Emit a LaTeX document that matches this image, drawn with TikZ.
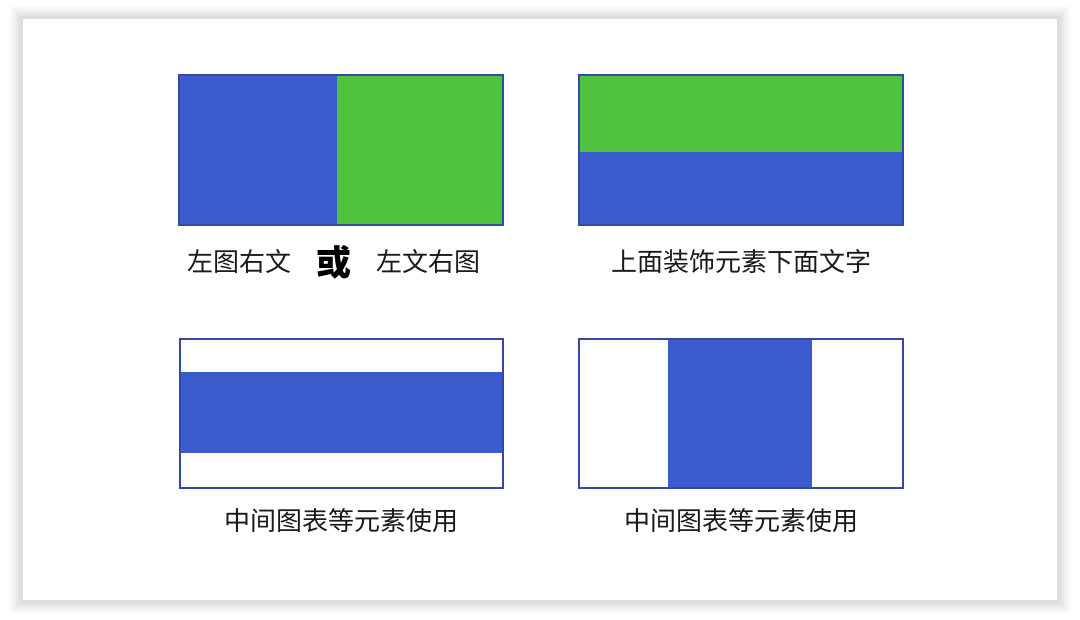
\documentclass[tikz,border=0pt]{standalone}
\usepackage{fontspec}
\newfontfamily\cjk{Noto Sans CJK SC}
\usetikzlibrary{positioning}

\definecolor{slideblue}{RGB}{60,91,204}
\definecolor{slidegreen}{RGB}{80,194,62}
\definecolor{edgeblue}{RGB}{52,72,165}
\definecolor{captiongray}{RGB}{26,26,26}

\tikzset{
    panel/.style={draw=edgeblue, line width=0.6pt, minimum width=162pt, minimum height=75pt, inner sep=0pt},
    caption/.style={font=\cjk\fontsize{13}{16}\selectfont, text=captiongray, inner sep=0pt},
    orword/.style={font=\cjk\bfseries\fontsize{17.5}{20}\selectfont, text=black, inner sep=0pt},
}

\begin{document}
\begin{tikzpicture}[x=0.5pt, y=-0.5pt]
    % canvas and slide shadow
    \fill[white] (0,0) rectangle (1080,620);
    \foreach \d/\g in {13/4, 11/8, 9/12, 7/17, 5/22, 3/27}
        \fill[gray!\g] (23-\d,19-\d) rectangle (1057+\d,600+\d);
    \fill[white] (23,19) rectangle (1057,600);

    % panel fills
    \fill[slideblue] (179,75) rectangle (337,225);
    \fill[slidegreen] (337,75) rectangle (503,225);
    \fill[slidegreen] (579,75) rectangle (903,152);
    \fill[slideblue] (579,152) rectangle (903,225);
    \fill[slideblue] (180,372) rectangle (503,453);
    \fill[slideblue] (668,339) rectangle (812,488);

    % panel outlines
    \node[panel] (leftright) at (341,150) {};
    \node[panel] (topbottom) at (741,150) {};
    \node[panel, minimum width=161.5pt, minimum height=74.5pt] (middleband) at (341.5,413.5) {};
    \node[panel, minimum height=74.5pt] (middlecol) at (741,413.5) {};

    % captions
    \node[orword] (or) at (334,262) {或};
    \node[caption, left=12pt of or] (picleft) {左图右文};
    \node[caption, right=12pt of or] (picright) {左文右图};
    \node[caption] (decotop) at (741,262) {上面装饰元素下面文字};
    \node[caption] (chartband) at (341,521) {中间图表等元素使用};
    \node[caption] (chartcol) at (741,521) {中间图表等元素使用};
\end{tikzpicture}
\end{document}
